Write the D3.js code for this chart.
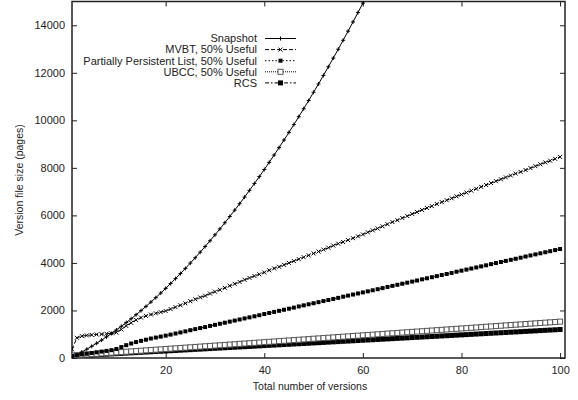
<!DOCTYPE html>
<html>
<head>
<meta charset="utf-8">
<script src="https://cdn.jsdelivr.net/npm/d3@7"></script>
<style>
  body { margin: 0; background: #fff; }
  text { font-family: "Liberation Sans", Arial, sans-serif; fill: #222; }
</style>
</head>
<body>
<div id="chart-container"></div>
<script>
// Values, one entry per version (1..100)
const versions = d3.range(1, 101);

const snapshot = [
  30, 140, 252, 370, 492, 620, 752, 890, 1032, 1180,
  1332, 1490, 1652, 1820, 1992, 2170, 2352, 2540, 2732, 2930,
  3132, 3340, 3552, 3770, 3992, 4220, 4452, 4690, 4932, 5180,
  5432, 5690, 5952, 6220, 6492, 6770, 7052, 7340, 7632, 7930,
  8232, 8540, 8852, 9170, 9492, 9820, 10152, 10490, 10832, 11180,
  11532, 11890, 12252, 12620, 12992, 13370, 13752, 14140, 14532, 14930,
  15332
];

const mvbt = [
  370, 850, 920, 950, 970, 990, 1000, 1020, 1040, 1070,
  1200, 1350, 1480, 1600, 1700, 1770, 1830, 1880, 1930, 1980,
  2060, 2140, 2220, 2300, 2390, 2470, 2550, 2620, 2710, 2790,
  2870, 2950, 3040, 3120, 3200, 3290, 3370, 3450, 3520, 3600,
  3690, 3770, 3840, 3920, 4000, 4080, 4160, 4240, 4320, 4400,
  4480, 4560, 4640, 4730, 4810, 4880, 4960, 5040, 5120, 5200,
  5290, 5370, 5450, 5540, 5630, 5720, 5800, 5890, 5970, 6060,
  6140, 6230, 6310, 6390, 6480, 6560, 6640, 6720, 6800, 6880,
  6960, 7040, 7120, 7200, 7280, 7360, 7440, 7520, 7600, 7680,
  7760, 7830, 7910, 7990, 8070, 8150, 8230, 8300, 8380, 8460
];

const ppl = [
  90, 120, 150, 180, 210, 240, 270, 300, 330, 380,
  460, 540, 610, 670, 720, 770, 820, 860, 900, 940,
  985, 1030, 1075, 1120, 1170, 1215, 1260, 1300, 1350, 1395,
  1440, 1485, 1530, 1575, 1620, 1665, 1710, 1755, 1800, 1850,
  1895, 1940, 1985, 2030, 2075, 2120, 2170, 2215, 2260, 2305,
  2350, 2395, 2440, 2485, 2530, 2580, 2625, 2670, 2715, 2760,
  2805, 2850, 2895, 2940, 2990, 3035, 3080, 3125, 3170, 3215,
  3260, 3310, 3355, 3400, 3445, 3490, 3535, 3580, 3630, 3675,
  3720, 3765, 3810, 3855, 3900, 3950, 3995, 4040, 4085, 4130,
  4175, 4220, 4270, 4315, 4360, 4405, 4450, 4495, 4540, 4585
];

const ubcc = [
  105, 119, 134, 148, 163, 177, 191, 206, 220, 235,
  249, 263, 278, 292, 307, 321, 335, 350, 364, 379,
  393, 407, 422, 436, 451, 465, 479, 494, 508, 523,
  537, 551, 566, 580, 595, 609, 623, 638, 652, 667,
  681, 695, 710, 724, 739, 753, 767, 782, 796, 811,
  825, 839, 854, 868, 883, 897, 911, 926, 940, 955,
  969, 983, 998, 1012, 1027, 1041, 1055, 1070, 1084, 1099,
  1113, 1127, 1142, 1156, 1171, 1185, 1199, 1214, 1228, 1243,
  1257, 1271, 1286, 1300, 1315, 1329, 1343, 1358, 1372, 1387,
  1401, 1415, 1430, 1444, 1459, 1473, 1487, 1502, 1516, 1531
];

const rcs = [
  80, 92, 103, 114, 125, 137, 148, 159, 170, 182,
  193, 204, 216, 227, 238, 250, 261, 272, 283, 295,
  306, 317, 329, 340, 351, 363, 374, 385, 396, 408,
  419, 430, 442, 453, 464, 476, 487, 498, 509, 521,
  532, 543, 555, 566, 577, 589, 600, 611, 622, 634,
  645, 656, 668, 679, 690, 702, 713, 724, 735, 747,
  758, 769, 781, 792, 803, 815, 826, 837, 848, 860,
  871, 882, 894, 905, 916, 928, 939, 950, 961, 973,
  984, 995, 1007, 1018, 1029, 1041, 1052, 1063, 1074, 1086,
  1097, 1108, 1120, 1131, 1142, 1154, 1165, 1176, 1187, 1199
];

const seriesNames = [
  'Snapshot',
  'MVBT, 50% Useful',
  'Partially Persistent List, 50% Useful',
  'UBCC, 50% Useful',
  'RCS'
];
const xTicks = [20, 40, 60, 80, 100];
const yTicks = [0, 2000, 4000, 6000, 8000, 10000, 12000, 14000];

// line / marker styling per series
const styles = [
  { dash: null,        marker: 'plus',   stroke: '#000' },
  { dash: '4,2',       marker: 'times',  stroke: '#000' },
  { dash: '1.5,2',     marker: 'fsmall', stroke: '#000' },
  { dash: '1,1',       marker: 'osq',    stroke: '#000' },
  { dash: '4,2,1.5,2', marker: 'fsq',    stroke: '#000' }
];

const width = 578;
const height = 400;
const plot = { left: 72, right: 565, top: 1.5, bottom: 358 };
const fontSize = '11px';

const svg = d3.select('#chart-container').append('svg')
    .attr('width', width)
    .attr('height', height);

const x = d3.scaleLinear([1, 101], [plot.left, plot.right]);
const y = d3.scaleLinear([0, 15000], [plot.bottom, plot.top]);

svg.append('clipPath')
    .attr('id', 'plot-clip')
  .append('rect')
    .attr('x', plot.left)
    .attr('y', plot.top)
    .attr('width', plot.right - plot.left)
    .attr('height', plot.bottom - plot.top);

// axes with inward ticks, mirrored on top/right
function styleAxis(g) {
  g.select('.domain').remove();
  g.selectAll('.tick line').attr('stroke', '#222');
  g.selectAll('.tick text')
      .style('font-family', '"Liberation Sans", Arial, sans-serif')
      .style('font-size', fontSize)
      .attr('fill', '#222');
}

svg.append('g')
    .attr('transform', `translate(${plot.left},0)`)
    .call(d3.axisLeft(y).tickValues(yTicks).tickSize(-5).tickPadding(7).tickFormat(d3.format('d')))
    .call(styleAxis);

svg.append('g')
    .attr('transform', `translate(${plot.right},0)`)
    .call(d3.axisRight(y).tickValues(yTicks).tickSize(-5).tickFormat(''))
    .call(styleAxis);

svg.append('g')
    .attr('transform', `translate(0,${plot.bottom})`)
    .call(d3.axisBottom(x).tickValues(xTicks).tickSize(-5).tickPadding(8).tickFormat(d3.format('d')))
    .call(styleAxis);

svg.append('g')
    .attr('transform', `translate(0,${plot.top})`)
    .call(d3.axisTop(x).tickValues(xTicks).tickSize(-5).tickFormat(''))
    .call(styleAxis);

svg.append('rect')
    .attr('x', plot.left)
    .attr('y', plot.top)
    .attr('width', plot.right - plot.left)
    .attr('height', plot.bottom - plot.top)
    .attr('fill', 'none')
    .attr('stroke', '#222')
    .attr('stroke-width', 1.5);

// axis titles
svg.append('text')
    .attr('x', 310)
    .attr('y', 390)
    .attr('text-anchor', 'middle')
    .style('font-size', '10.5px')
    .text('Total number of versions');

svg.append('text')
    .attr('transform', 'translate(23,180) rotate(-90)')
    .attr('text-anchor', 'middle')
    .style('font-size', '10.5px')
    .text('Version file size (pages)');

function drawMarker(g, type, cx, cy) {
  if (type === 'plus') {
    g.append('path')
        .attr('d', `M${cx - 2},${cy}H${cx + 2}M${cx},${cy - 2}V${cy + 2}`)
        .attr('stroke', '#000').attr('stroke-width', 1);
  } else if (type === 'times') {
    g.append('path')
        .attr('d', `M${cx - 2},${cy - 2}L${cx + 2},${cy + 2}M${cx - 2},${cy + 2}L${cx + 2},${cy - 2}`)
        .attr('stroke', '#000').attr('stroke-width', 1);
  } else if (type === 'fsmall') {
    g.append('rect')
        .attr('x', cx - 2).attr('y', cy - 2).attr('width', 4).attr('height', 4)
        .attr('fill', '#000');
  } else if (type === 'osq') {
    g.append('rect')
        .attr('x', cx - 2.5).attr('y', cy - 2.5).attr('width', 5).attr('height', 5)
        .attr('fill', '#fff').attr('stroke', '#555').attr('stroke-width', 1);
  } else if (type === 'fsq') {
    g.append('rect')
        .attr('x', cx - 2.5).attr('y', cy - 2.5).attr('width', 5).attr('height', 5)
        .attr('fill', '#000');
  }
}

const allSeries = [snapshot, mvbt, ppl, ubcc, rcs];
const plotArea = svg.append('g').attr('clip-path', 'url(#plot-clip)');

// draw bottom series first so snapshot ends up on top
[4, 3, 2, 1, 0].forEach(i => {
  const vals = allSeries[i];
  const pts = vals.map((v, j) => [versions[j], v]);
  const line = d3.line().x(d => x(d[0])).y(d => y(d[1]));
  const g = plotArea.append('g');
  g.append('path')
      .datum(pts)
      .attr('d', line)
      .attr('fill', 'none')
      .attr('stroke', styles[i].stroke)
      .attr('stroke-width', 1)
      .attr('stroke-dasharray', styles[i].dash);
  pts.forEach(p => drawMarker(g, styles[i].marker, x(p[0]), y(p[1])));
});

// legend
const legendRight = 257;
const legendRows = [38.5, 49.6, 60.7, 71.8, 82.9];
seriesNames.forEach((name, i) => {
  const ly = legendRows[i];
  svg.append('text')
      .attr('x', legendRight)
      .attr('y', ly)
      .attr('dy', '0.35em')
      .attr('text-anchor', 'end')
      .style('font-size', fontSize)
      .text(name);
  const g = svg.append('g');
  g.append('line')
      .attr('x1', 265).attr('x2', 296)
      .attr('y1', ly).attr('y2', ly)
      .attr('stroke', '#000')
      .attr('stroke-width', 1)
      .attr('stroke-dasharray', styles[i].dash);
  drawMarker(g, styles[i].marker, 280.5, ly);
});
</script>
</body>
</html>
